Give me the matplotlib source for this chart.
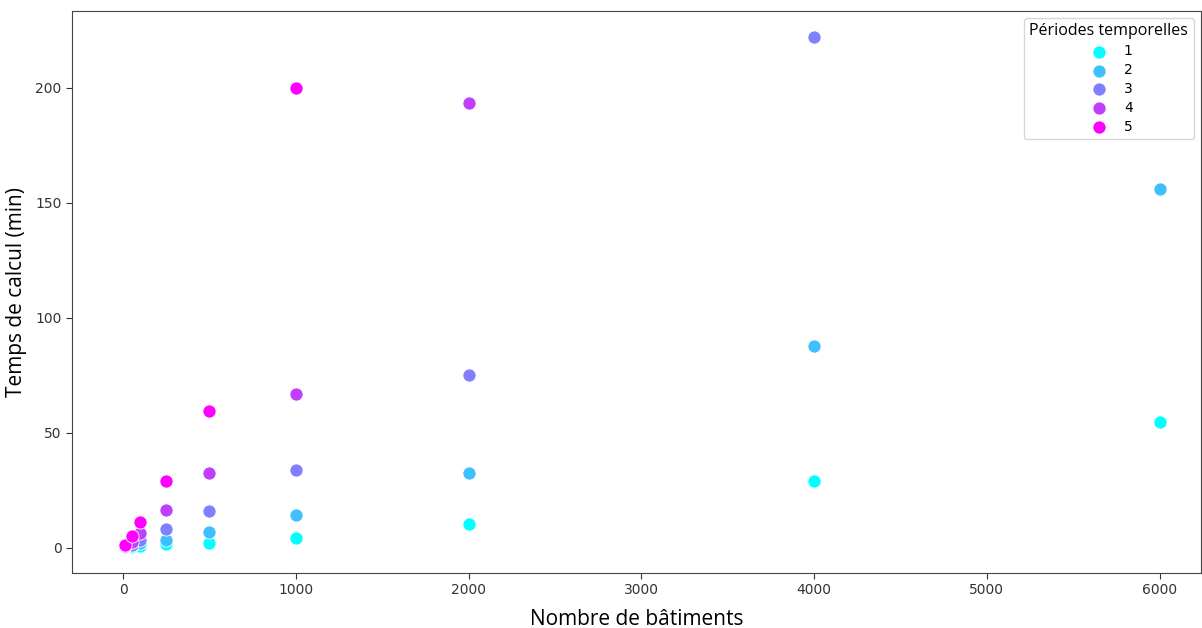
import numpy as np
import matplotlib
matplotlib.use("Agg")
import matplotlib.pyplot as plt
from matplotlib import cm

buildings = [10, 50, 100, 250, 500, 1000, 2000, 4000, 6000]
periods = [1, 2, 3, 4, 5]

# computation time (min) per period, None where no run
p1 = [0.2, 0.4, 0.9, 1.5, 2.2, 4.3, 10.4, 29.1, 54.8]
p2 = [0.4, 0.9, 2.0, 3.5, 7.0, 14.3, 32.6, 87.8, 156.0]
p3 = [0.7, 1.3, 3.5, 8.3, 16.0, 33.9, 75.2, 222.2, None]
p4 = [1.0, 2.5, 6.5, 16.5, 32.6, 67.0, 193.5, None, None]
p5 = [1.2, 5.2, 11.3, 29.1, 59.6, 200.0, None, None, None]
times = [p1, p2, p3, p4, p5]

fig = plt.figure(figsize=(12.02, 6.28), dpi=100)
ax = fig.add_axes([0.06, 0.0876, 0.939, 0.895])

colors = cm.cool(np.linspace(0, 1, len(periods)))
for per, vals, c in zip(periods, times, colors):
    xs = [b for b, v in zip(buildings, vals) if v is not None]
    ys = [v for v in vals if v is not None]
    ax.scatter(xs, ys, s=90, color=c, edgecolors='white', linewidths=0.6, label=str(per), zorder=3)

ax.set_xlim(-295, 6238)
ax.set_ylim(-10.9, 233.5)
ax.set_xticks([0, 1000, 2000, 3000, 4000, 5000, 6000])
ax.set_yticks([0, 50, 100, 150, 200])
ax.tick_params(labelsize=10, colors='#333333', length=4)
for s in ax.spines.values():
    s.set_color('#444444')

ax.set_xlabel('Nombre de bâtiments', fontsize=15, family='Open Sans', labelpad=8)
ax.set_ylabel('Temps de calcul (min)', fontsize=15, family='Open Sans', labelpad=6)

leg = ax.legend(title='Périodes temporelles', loc='upper right', fontsize=10,
                title_fontsize=11.5, frameon=True, borderaxespad=0.5,
                labelspacing=0.35)
leg.get_title().set_family('Open Sans')

fig.savefig('out.png', dpi=100)
